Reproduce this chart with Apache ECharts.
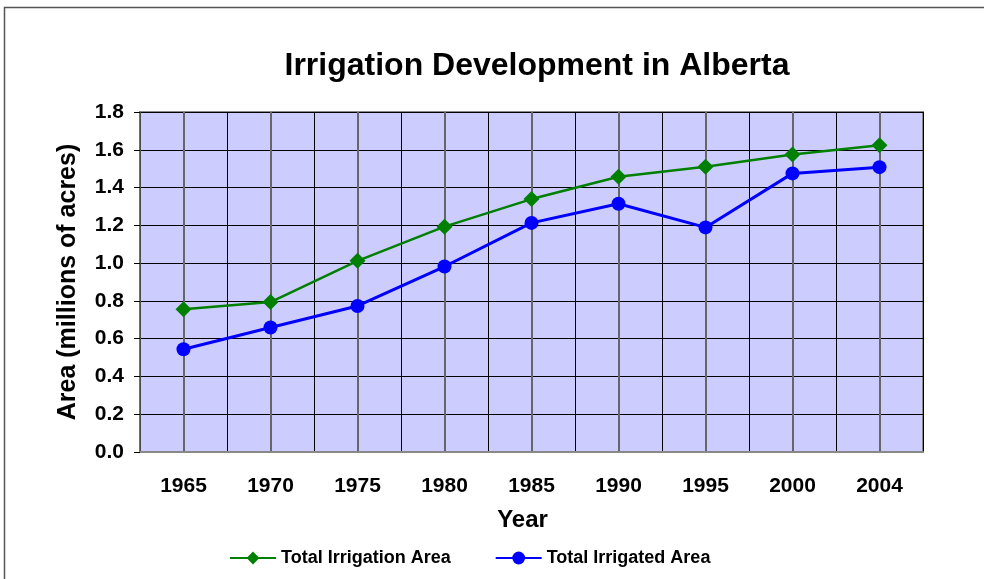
<!DOCTYPE html>
<html>
<head>
<meta charset="utf-8">
<script src="https://cdn.jsdelivr.net/npm/echarts@6/dist/echarts.min.js"></script>
<style>
html, body { margin: 0; padding: 0; background: #fff; }
#map { width: 984px; height: 579px; }
</style>
</head>
<body>
<div id="map"></div>
<script>
// 数据
var years = ['1965', '1970', '1975', '1980', '1985', '1990', '1995', '2000', '2004'];
var irrigationArea = [0.756, 0.794, 1.012, 1.193, 1.339, 1.457, 1.510, 1.575, 1.624];
var irrigatedArea = [0.544, 0.659, 0.773, 0.982, 1.213, 1.314, 1.189, 1.475, 1.508];
var yTicks = { min: 0, max: 1.8, step: 0.2 };

var myChart = echarts.init(document.getElementById('map'));
var font = 'Liberation Sans, Arial, sans-serif';

var option = {
	backgroundColor: '#fff',
	animation: false,
	title: {
		text: 'Irrigation Development in Alberta',
		left: 532,
		textAlign: 'center',
		top: 45,
		textStyle: { fontFamily: font, fontSize: 32, fontWeight: 'bold', color: '#000' }
	},
	graphic: [{
		type: 'rect',
		shape: { x: 4.5, y: 7.5, width: 1000, height: 600 },
		style: { fill: 'none', stroke: '#555', lineWidth: 1.5 },
		silent: true
	}],
	legend: {
		left: 224,
		top: 544,
		itemWidth: 46,
		itemHeight: 16,
		itemGap: 44,
		textStyle: { fontFamily: font, fontSize: 18, fontWeight: 'bold', color: '#000' },
		data: ['Total Irrigation Area', 'Total Irrigated Area']
	},
	grid: {
		left: 140,
		right: 61,
		top: 112,
		bottom: 127,
		show: true,
		backgroundColor: '#CCCCFF',
		borderColor: '#888',
		borderWidth: 2
	},
	xAxis: [{
		type: 'category',
		data: years,
		boundaryGap: true,
		axisLine: { show: true, lineStyle: { color: '#888', width: 2 } },
		axisTick: { show: false },
		axisLabel: { margin: 24, fontFamily: font, fontSize: 21, fontWeight: 'bold', color: '#000' },
		splitLine: { show: true, interval: 0, lineStyle: { color: '#000', width: 1 } },
		name: 'Year',
		nameLocation: 'middle',
		nameGap: 56,
		nameTextStyle: { fontFamily: font, fontSize: 24, fontWeight: 'bold', color: '#000', padding: [0, 18, 0, 0] }
	}, {
		// 类别中心的竖线
		type: 'value',
		position: 'bottom',
		min: 0,
		max: 18,
		interval: 1,
		axisLine: { show: false },
		axisTick: { show: false },
		axisLabel: { show: false },
		splitLine: { show: true, lineStyle: { color: ['rgba(0,0,0,0)', '#666'], width: 2 } }
	}],
	yAxis: {
		type: 'value',
		min: yTicks.min,
		max: yTicks.max,
		interval: yTicks.step,
		axisLine: { show: true, lineStyle: { color: '#666', width: 1.5 } },
		axisTick: { show: true, length: 6, lineStyle: { color: '#000' } },
		axisLabel: {
			margin: 16,
			fontFamily: font,
			fontSize: 21,
			fontWeight: 'bold',
			color: '#000',
			formatter: function(v) { return v.toFixed(1); }
		},
		splitLine: { show: true, lineStyle: { color: '#000', width: 1 } },
		name: 'Area (millions of acres)',
		nameLocation: 'middle',
		nameGap: 59,
		nameTextStyle: { fontFamily: font, fontSize: 25, fontWeight: 'bold', color: '#000' }
	},
	series: [{
		name: 'Total Irrigation Area',
		type: 'line',
		xAxisIndex: 0,
		data: irrigationArea,
		symbol: 'diamond',
		symbolSize: 16,
		itemStyle: { color: '#008000' },
		lineStyle: { color: '#008000', width: 2.5 }
	}, {
		name: 'Total Irrigated Area',
		type: 'line',
		xAxisIndex: 0,
		data: irrigatedArea,
		symbol: 'circle',
		symbolSize: 14,
		itemStyle: { color: '#0000FF' },
		lineStyle: { color: '#0000FF', width: 3 }
	}]
};

myChart.setOption(option);
</script>
</body>
</html>
